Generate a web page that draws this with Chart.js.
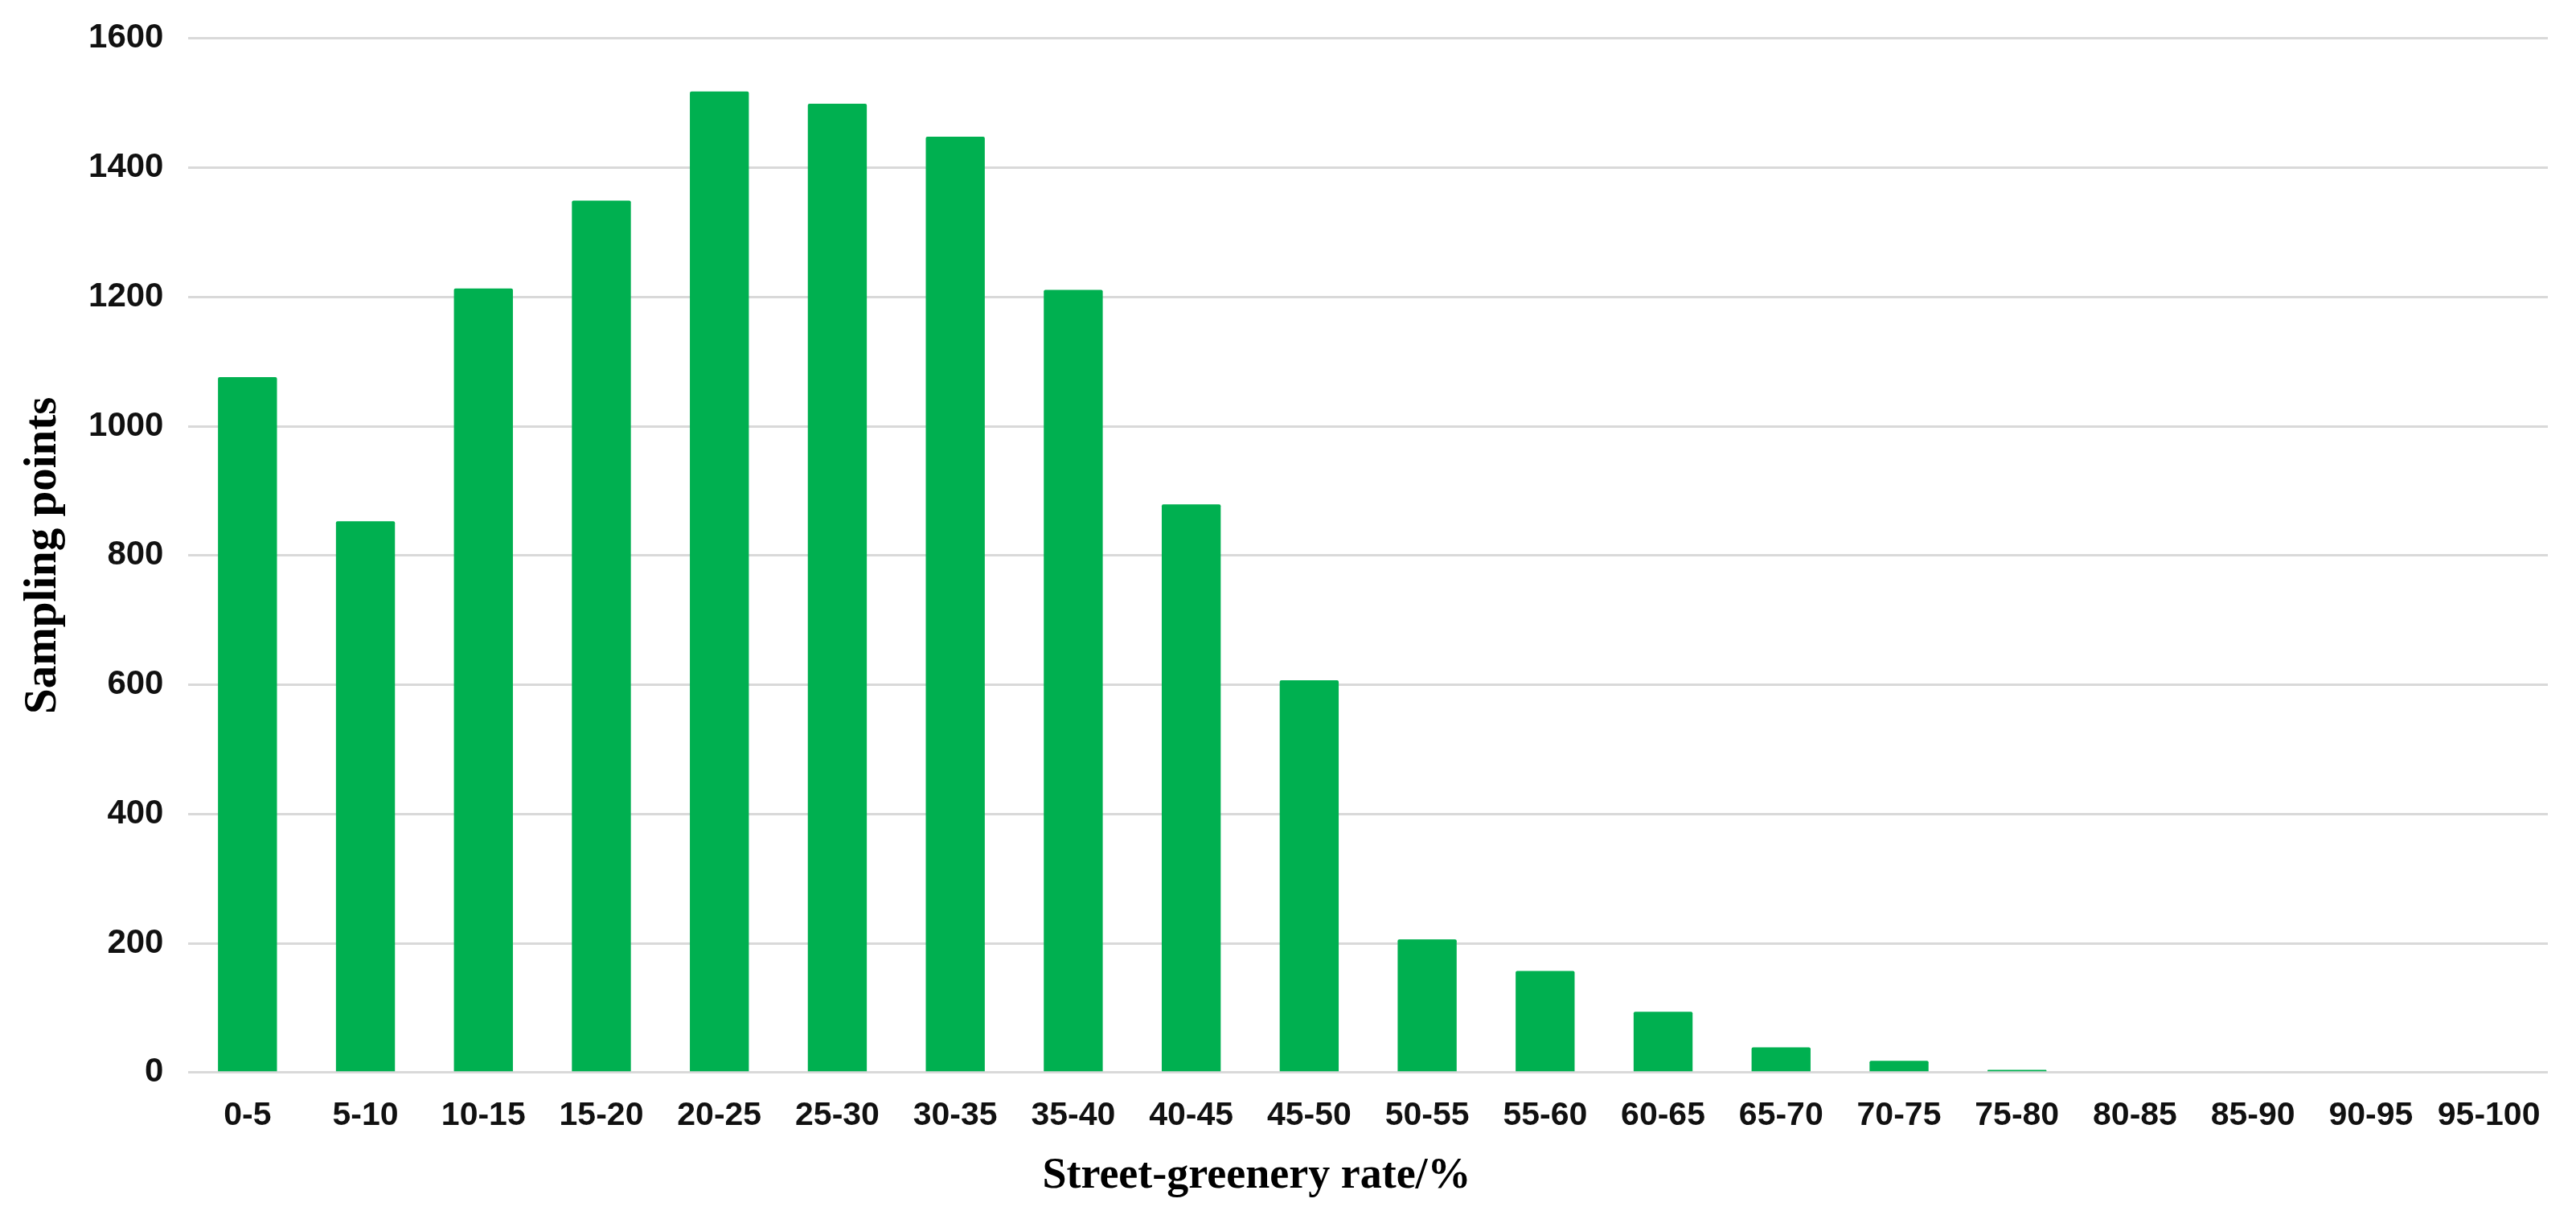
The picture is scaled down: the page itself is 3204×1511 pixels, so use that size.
<!DOCTYPE html>
<html>
<head>
<meta charset="utf-8">
<title>Street-greenery rate distribution</title>
<script src="https://cdn.jsdelivr.net/npm/chart.js@4.4.1/dist/chart.umd.min.js"></script>
<style>
    html, body {
        margin: 0;
        padding: 0;
        background: #ffffff;
    }
    #wrap {
        position: relative;
        width: 3204px;
        height: 1511px;
    }
    #xTitle {
        position: absolute;
        left: 1563px;
        top: 1432px;
        transform: translateX(-50%);
        font-family: 'Liberation Serif', 'Times New Roman', serif;
        font-weight: bold;
        font-size: 54px;
        line-height: 1;
        color: #000;
        white-space: nowrap;
    }
</style>
</head>
<body>
<div id="wrap">
    <canvas id="greeneryChart"></canvas>
    <div id="xTitle">Street-greenery rate/%</div>
</div>
<script>
// Street-greenery rate classes (%)
const categories = [
    '0-5', '5-10', '10-15', '15-20', '20-25', '25-30', '30-35', '35-40', '40-45', '45-50',
    '50-55', '55-60', '60-65', '65-70', '70-75', '75-80', '80-85', '85-90', '90-95', '95-100'
];

// number of sampling points per class
const samplingPoints = [
    1076, 853, 1213, 1349, 1518, 1499, 1448, 1211, 879, 607,
    206, 157, 94, 39, 18, 4, 0, 0, 0, 0
];

const yTicks = [0, 200, 400, 600, 800, 1000, 1200, 1400, 1600];

const yAxisTitle = 'Sampling points';

const ctx = document.getElementById('greeneryChart');

new Chart(ctx, {
    type: 'bar',
    data: {
        labels: categories,
        datasets: [{
            label: 'Sampling points',
            data: samplingPoints,
            backgroundColor: '#00b050',
            borderWidth: 0,
            borderRadius: 2,
            barPercentage: 0.5,
            categoryPercentage: 1.0
        }]
    },
    options: {
        responsive: true,
        maintainAspectRatio: false,
        animation: false,
        layout: {
            padding: { top: 33, right: 35, bottom: 70, left: 0 }
        },
        plugins: {
            legend: { display: false },
            tooltip: { enabled: false }
        },
        scales: {
            x: {
                grid: { display: false, drawTicks: false },
                border: { display: false },
                ticks: {
                    autoSkip: false,
                    maxRotation: 0,
                    padding: 29,
                    color: '#111',
                    font: { family: 'Liberation Sans, Arial, sans-serif', size: 41, weight: 'bold' }
                }
            },
            y: {
                min: 0,
                max: 1600,
                afterBuildTicks: (axis) => {
                    axis.ticks = yTicks.map(v => ({ value: v }));
                },
                grid: {
                    color: '#d9d9d9',
                    lineWidth: 3,
                    drawTicks: false
                },
                border: { display: false },
                ticks: {
                    padding: 31,
                    color: '#111',
                    font: { family: 'Liberation Sans, Arial, sans-serif', size: 42, weight: 'bold', lineHeight: 0.8 },
                    callback: (value) => String(value)
                },
                title: {
                    display: true,
                    text: yAxisTitle,
                    color: '#000',
                    padding: { top: 30, bottom: 0 },
                    font: { family: 'Liberation Serif, Times New Roman, serif', size: 57, weight: 'bold', lineHeight: 0.86 }
                }
            }
        }
    }
});
</script>
</body>
</html>
